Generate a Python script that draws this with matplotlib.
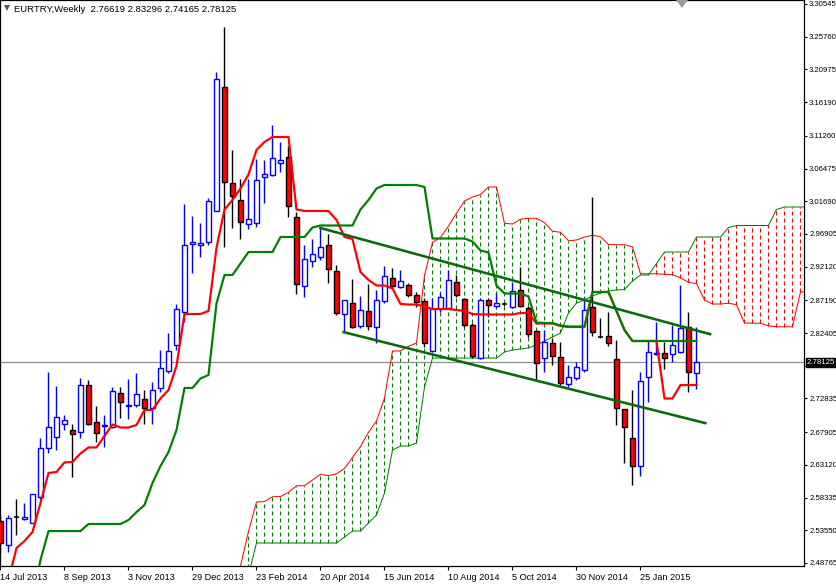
import numpy as np
import matplotlib
matplotlib.use("Agg")
import matplotlib.pyplot as plt
from matplotlib.patches import Rectangle, Polygon

# ---------------- data (weekly candles, week 0 = 14 Jul 2013) ----------------
opens = [2.5491,2.5140,2.5549,2.5520,2.5462,2.5842,2.6559,2.6720,2.6910,2.6822,
         2.6793,2.7480,2.6939,2.6881,2.6866,2.7363,2.7173,2.7188,2.7276,2.7144,
         2.7437,2.7685,2.8066,2.8548,2.9543,2.9529,2.9573,3.0026,3.1840,3.0436,
         3.0187,2.9836,2.9851,3.0523,3.0553,3.0728,3.0816,2.9938,2.8929,2.9295,
         2.9353,2.9529,2.9148,2.8519,2.8680,2.8344,2.8563,2.8329,2.8709,2.9046,
         2.8914,2.8943,2.8797,2.8709,2.7978,2.8592,2.8607,2.8987,2.8739,2.8358,
         2.7875,2.8724,2.8636,2.8665,2.8622,2.8870,2.8607,2.8270,2.7875,2.8095,
         2.7890,2.7495,2.7583,2.7700,2.8622,2.8183,2.8197,2.7861,2.7129,2.6705,
         2.6295,2.7597,2.7934,2.7949,2.7934,2.7963,2.8329,2.76619]
highs = [2.5579,2.5579,2.5813,2.5754,2.5886,2.6705,2.7671,2.7466,2.7042,2.6910,
         2.7583,2.7554,2.7173,2.7042,2.7451,2.7451,2.7568,2.7656,2.7407,2.7524,
         2.7992,2.8241,2.8665,3.0128,2.9953,2.9851,3.0216,3.2060,3.2718,3.0918,
         3.0494,3.0494,3.0787,3.0772,3.1284,3.1036,3.0977,3.0011,2.9529,2.9616,
         2.9777,2.9690,2.9236,2.8724,2.9031,2.8783,2.8958,2.8870,2.9221,2.9192,
         2.9163,2.8973,2.8841,2.8753,2.8753,2.8826,2.9163,2.9090,2.8753,2.8388,
         2.8753,2.8753,2.8826,2.8695,2.8987,2.9207,2.8636,2.8285,2.8285,2.8168,
         2.8110,2.7773,2.7817,2.8753,3.0231,2.8461,2.8548,2.8139,2.7129,2.7407,
         2.7671,2.8124,2.8402,2.8110,2.8358,2.8943,2.8548,2.83296]
lows = [2.5023,2.5037,2.5286,2.5505,2.5462,2.5798,2.6486,2.6529,2.6822,2.6134,
        2.6705,2.6895,2.6647,2.6573,2.6851,2.6998,2.6983,2.7159,2.6910,2.6910,
        2.7378,2.7656,2.7992,2.8402,2.9119,2.9353,2.9529,3.0026,2.9499,2.9777,
        2.9616,2.9763,2.9792,3.0143,3.0538,3.0597,2.9938,2.8812,2.8768,2.9207,
        2.9309,2.8973,2.8505,2.8256,2.8314,2.8314,2.8285,2.8095,2.8680,2.8885,
        2.8900,2.8768,2.8622,2.8036,2.7963,2.8548,2.8592,2.8768,2.8329,2.7875,
        2.7861,2.8475,2.8607,2.8636,2.8607,2.8622,2.8183,2.7554,2.7671,2.7773,
        2.7480,2.7451,2.7554,2.7671,2.8197,2.8168,2.8051,2.6895,2.6339,2.6017,
        2.6149,2.7232,2.7919,2.7715,2.7817,2.7949,2.7378,2.74165]
closes = [2.5169,2.5535,2.5549,2.5549,2.5886,2.6559,2.6866,2.7012,2.6968,2.6764,
          2.7480,2.6910,2.6778,2.6895,2.7393,2.7232,2.7188,2.7349,2.7144,2.7407,
          2.7729,2.7978,2.8592,2.9529,2.9573,2.9558,3.0172,3.1957,3.0450,3.0246,
          2.9865,2.9909,3.0480,3.0567,3.0801,3.0772,3.0099,2.8958,2.9324,2.9397,
          2.9499,2.9178,2.8534,2.8724,2.8329,2.8578,2.8344,2.8724,2.9075,2.8929,
          2.9002,2.8797,2.8695,2.8095,2.8592,2.8768,2.9017,2.8797,2.8358,2.7905,
          2.8724,2.8651,2.8680,2.8665,2.8856,2.8630,2.8227,2.7802,2.8110,2.7905,
          2.7510,2.7597,2.7744,2.8578,2.8256,2.8183,2.8095,2.7144,2.6866,2.6295,
          2.7539,2.7963,2.7949,2.7875,2.8066,2.8314,2.7671,2.78125]

tenkan_early = [np.nan, 2.4628, 2.5096, 2.5198, 2.5330, 2.5754, 2.6193, 2.6208]          # weeks 0-7
kijun_early = [np.nan, np.nan, np.nan, np.nan, 2.4335, 2.4920, 2.5344, 2.5344, 2.5344,
               2.5344, 2.5344, 2.5447, 2.5447, 2.5447, 2.5447, 2.5447, 2.5505, 2.5622,
               2.5725, 2.6047, 2.6295, 2.6500, 2.6822, 2.7437, 2.7437]                  # weeks 0-24
spanb_early = [np.nan, 2.4701, 2.5169, 2.5169, 2.5169, 2.5169, 2.5169, 2.5169, 2.5169,
               2.5169, 2.5169, 2.5169, 2.5169, 2.5257, 2.5344, 2.5344, 2.5462, 2.5579,
               2.5900, 2.6529, 2.6588, 2.6588, 2.6632, 2.7451, 2.7875, 2.7875, 2.7875,
               2.7875, 2.7875, 2.7875, 2.7875, 2.7875, 2.7875, 2.7963, 2.7992, 2.8007,
               2.8022, 2.8066, 2.8124, 2.8183, 2.8241, 2.8534, 2.8680, 2.8724, 2.8783,
               2.8826, 2.8856]                                                          # weeks 30-76

# trend channel (anchored at week/price points)
chan_upper_x = [40.0, 88.7]
chan_upper_y = [2.9777, 2.8224]
chan_lower_x = [42.9, 88.1]
chan_lower_y = [2.8254, 2.6923]

x_labels = ["14 Jul 2013", "8 Sep 2013", "3 Nov 2013", "29 Dec 2013", "23 Feb 2014",
            "20 Apr 2014", "15 Jun 2014", "10 Aug 2014", "5 Oct 2014", "30 Nov 2014",
            "25 Jan 2015"]
y_ticks = [3.30545, 3.25760, 3.20975, 3.16190, 3.11260, 3.06475, 3.01690, 2.96905,
           2.92120, 2.87190, 2.82405, 2.77620, 2.72835, 2.67905, 2.63120, 2.58335,
           2.53550, 2.48765]
last_price = 2.78125
title = "EURTRY,Weekly  2.76619 2.83296 2.74165 2.78125"

# ---------------- Ichimoku ----------------
O, H, L, C = map(np.array, (opens, highs, lows, closes))
n = len(C)
tenkan = np.full(n, np.nan); kijun = np.full(n, np.nan)
tenkan[:8] = tenkan_early
kijun[:25] = kijun_early
for i in range(8, n):
    tenkan[i] = (H[i-8:i+1].max() + L[i-8:i+1].min()) / 2
for i in range(25, n):
    kijun[i] = (H[i-25:i+1].max() + L[i-25:i+1].min()) / 2
m = n + 26
spanA = np.full(m, np.nan); spanB = np.full(m, np.nan)
spanA[26:] = (tenkan + kijun) / 2
spanB[30:77] = spanb_early
for j in range(77, m):
    i = j - 26
    spanB[j] = (H[i-51:i+1].max() + L[i-51:i+1].min()) / 2

# ---------------- figure ----------------
W, Hh = 836, 586
fig = plt.figure(figsize=(W/100, Hh/100), dpi=100)
ax = fig.add_axes([0/W, 20/Hh, 804/W, 566/Hh])
px = 0.72  # points per pixel
FONT = 'Liberation Sans'

for j in range(m):
    a, b = spanA[j], spanB[j]
    if np.isnan(a) or np.isnan(b):
        continue
    col = '#008000' if a > b else '#ff0000'
    ax.vlines(j, min(a, b), max(a, b), colors=col, linewidth=1*px,
              linestyles=(0, (4, 3)), zorder=1)
jj = np.arange(m)
ax.plot(jj, spanA, color='#ff0000', lw=1*px, zorder=2)
ax.plot(jj, spanB, color='#008000', lw=1*px, zorder=2)

ax.axhline(last_price, color='#8c8c8c', lw=1.2*px, zorder=1.5)

bw = 0.62
for i in range(n):
    o, h, l, c = O[i], H[i], L[i], C[i]
    if c > o:
        ec, fc, wc = '#0000ff', 'white', '#0000ff'
    elif c < o:
        ec, fc, wc = 'black', '#ff0000', 'black'
    else:
        ec, fc, wc = 'black', 'black', 'black'
    ax.vlines(i, l, h, colors=wc, lw=1.4*px, zorder=3)
    lo, hi = min(o, c), max(o, c)
    if hi - lo < 0.0012:
        ax.hlines((o + c) / 2, i - bw/2, i + bw/2, colors=ec, lw=1.6*px, zorder=4)
    else:
        ax.add_patch(Rectangle((i - bw/2, lo), bw, hi - lo, facecolor=fc,
                               edgecolor=ec, lw=1.4*px, zorder=4))

ii = np.arange(n)
ax.plot(ii, tenkan, color='#ff0000', lw=2.2*px, zorder=5)
ax.plot(ii, kijun, color='#008000', lw=2.2*px, zorder=6)
ax.plot(chan_upper_x, chan_upper_y, color='#0b6b0b', lw=2.6*px, zorder=7)
ax.plot(chan_lower_x, chan_lower_y, color='#0b6b0b', lw=2.6*px, zorder=7)

ax.set_xlim(-0.0625, 100.44)
ax.set_ylim(3.3113 - 566*0.001463, 3.3113)
ax.yaxis.tick_right()
ax.set_yticks(y_ticks)
ax.set_yticklabels([f"{v:.5f}" for v in y_ticks], fontsize=5.6, family=FONT)
ax.set_xticks(np.arange(0, 8*len(x_labels), 8))
ax.set_xticklabels(x_labels, fontsize=6.6, ha='left', family=FONT)
ax.tick_params(axis='y', length=2.5, width=0.8, pad=1.2, colors='black')
ax.tick_params(axis='x', length=3, width=0.8, pad=2, colors='black')
for s in ax.spines.values():
    s.set_color('black'); s.set_linewidth(0.9)
ax.set_facecolor('white')

ax.text(1.0035, last_price, "2.78125", transform=ax.get_yaxis_transform(),
        ha='left', va='center', fontsize=5.6, color='white', zorder=10, family=FONT,
        bbox=dict(boxstyle='square,pad=0.15', fc='black', ec='black'), clip_on=False)

fig.text(14/W, 1 - 9/Hh, title, fontsize=6.8, ha='left', va='center', family=FONT)
fig.patches.append(Polygon([[4/W, 1-5/Hh], [10/W, 1-5/Hh], [7/W, 1-11/Hh]],
                           closed=True, transform=fig.transFigure, fc='#555555', ec='none'))
fig.patches.append(Polygon([[676/W, 1.0], [688/W, 1.0], [682/W, 1-8/Hh]],
                           closed=True, transform=fig.transFigure, fc='#9a9a9a', ec='none'))

fig.savefig("out.png", dpi=100, facecolor='white')
